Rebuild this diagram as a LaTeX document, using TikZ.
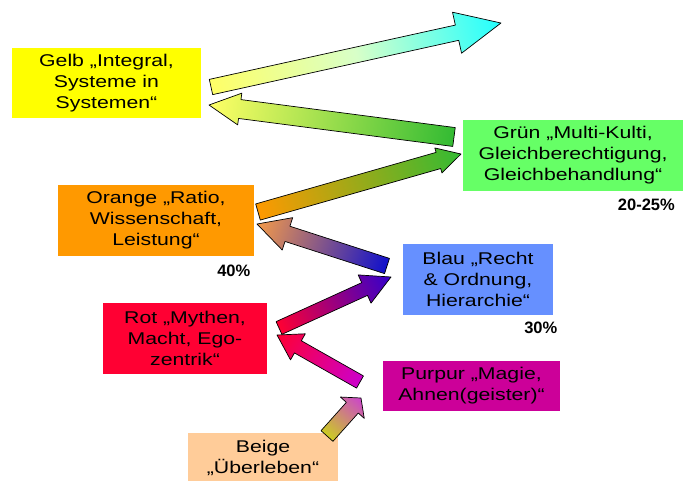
\documentclass[tikz,border=0pt]{standalone}
\usepackage{fontspec}
\usepackage{xcolor}
\usetikzlibrary{calc}
\newfontfamily\boxfont[FakeStretch=1.25]{Liberation Sans}
\newfontfamily\pctfont{Liberation Sans}

\definecolor{gelb}{HTML}{FFFF00}
\definecolor{gruen}{HTML}{66FF66}
\definecolor{orange}{HTML}{FF9900}
\definecolor{blau}{HTML}{6690FF}
\definecolor{rot}{HTML}{FF0033}
\definecolor{purpur}{HTML}{CC0099}
\definecolor{beige}{HTML}{FFCC99}
\definecolor{oliv}{HTML}{CCCC22}
\definecolor{pink}{HTML}{CC44CC}
\definecolor{magenta}{HTML}{CC00CC}
\definecolor{violett}{HTML}{3300CC}
\definecolor{dunkelblau}{HTML}{1010CC}
\definecolor{apricot}{HTML}{F39A4A}
\definecolor{gras}{HTML}{33BB33}
\definecolor{hellgelb}{HTML}{FFFF66}
\definecolor{mint}{HTML}{D8FFC8}
\definecolor{cyan}{HTML}{22FFFF}

% block arrow: [extra], tail, tip, half shaft, half head, head length, tail colour, head colour
\newcommand\stufenpfeil[8][]{%
  \path let \p1=($(#3)-(#2)$) in \pgfextra{%
    \pgfmathsetmacro\pflen{veclen(\x1,\y1)}%
    \pgfmathsetmacro\pfang{atan2(\y1,\x1)}%
    \global\let\pflen\pflen \global\let\pfang\pfang};
  \begin{scope}[transform canvas={shift={(#2)},rotate=\pfang}]
    \shade[left color=#7, right color=#8, #1, draw=black, line width=.7pt, line join=round]
      (0,#4) -- ({\pflen-#6},#4) -- ({\pflen-#6},#5) -- (\pflen,0)
      -- ({\pflen-#6},-#5) -- ({\pflen-#6},-#4) -- (0,-#4) -- cycle;
  \end{scope}}

\begin{document}
\begin{tikzpicture}[x=1pt,y=-1pt,
   stufe/.style={rectangle, inner sep=0pt, align=center,
     font=\boxfont\fontsize{17}{21}\selectfont},
   anteil/.style={anchor=east, inner sep=0pt,
     font=\pctfont\bfseries\fontsize{16.5}{20}\selectfont}]
   \useasboundingbox (0,0) rectangle (683,480);

   % the levels
   \node[stufe, fill=gelb, minimum width=189pt, minimum height=70pt] (gelb) at (106.5,83)
      {Gelb „Integral,\\Systeme in\\Systemen“};
   \node[stufe, fill=gruen, minimum width=221pt, minimum height=71pt] (gruen) at (573,155.5)
      {Grün „Multi-Kulti,\\Gleichberechtigung,\\Gleichbehandlung“};
   \node[stufe, fill=orange, minimum width=196pt, minimum height=71pt] (orange) at (156,220.5)
      {Orange „Ratio,\\Wissenschaft,\\Leistung“};
   \node[stufe, fill=blau, minimum width=150pt, minimum height=71pt] (blau) at (478,279.5)
      {Blau „Recht\\\& Ordnung,\\Hierarchie“};
   \node[stufe, fill=rot, minimum width=164pt, minimum height=71pt] (rot) at (185,338.5)
      {Rot „Mythen,\\Macht, Ego-\\zentrik“};
   \node[stufe, fill=purpur, minimum width=177pt, minimum height=50pt] (purpur) at (471.5,386)
      {Purpur „Magie,\\Ahnen(geister)“};
   \node[stufe, fill=beige, minimum width=150pt, minimum height=50pt] (beige) at (263,457.5)
      {Beige\\„Überleben“};

   \node[anteil] (p1) at (675,205) {20-25\%};
   \node[anteil] (p2) at (250.5,271) {40\%};
   \node[anteil] (p3) at (557.5,328) {30\%};

   % arrow ends
   \coordinate (s1) at (327,436);  \coordinate (t1) at (361,398);
   \coordinate (s2) at (360,382);  \coordinate (t2) at (277,335);
   \coordinate (s3) at (279,328);  \coordinate (t3) at (391,277);
   \coordinate (s4) at (387,266);  \coordinate (t4) at (257,224);
   \coordinate (s5) at (258,212);  \coordinate (t5) at (461,154);
   \coordinate (s6) at (454,137);  \coordinate (t6) at (209,105);
   \coordinate (s7) at (211,87);   \coordinate (t7) at (501,23);

   \stufenpfeil{s1}{t1}{8}{16}{13}{oliv}{pink}
   \stufenpfeil{s2}{t2}{7}{15}{24}{magenta}{rot}
   \stufenpfeil{s3}{t3}{7}{15.5}{29}{rot}{violett}
   \stufenpfeil{s4}{t4}{8}{17}{32}{dunkelblau}{apricot}
   \stufenpfeil{s5}{t5}{8.4}{13}{23.5}{orange}{gras}
   \stufenpfeil{s6}{t6}{9.5}{16}{31}{gras}{hellgelb}
   \stufenpfeil[middle color=mint]{s7}{t7}{7.8}{21}{45}{hellgelb}{cyan}
\end{tikzpicture}
\end{document}
